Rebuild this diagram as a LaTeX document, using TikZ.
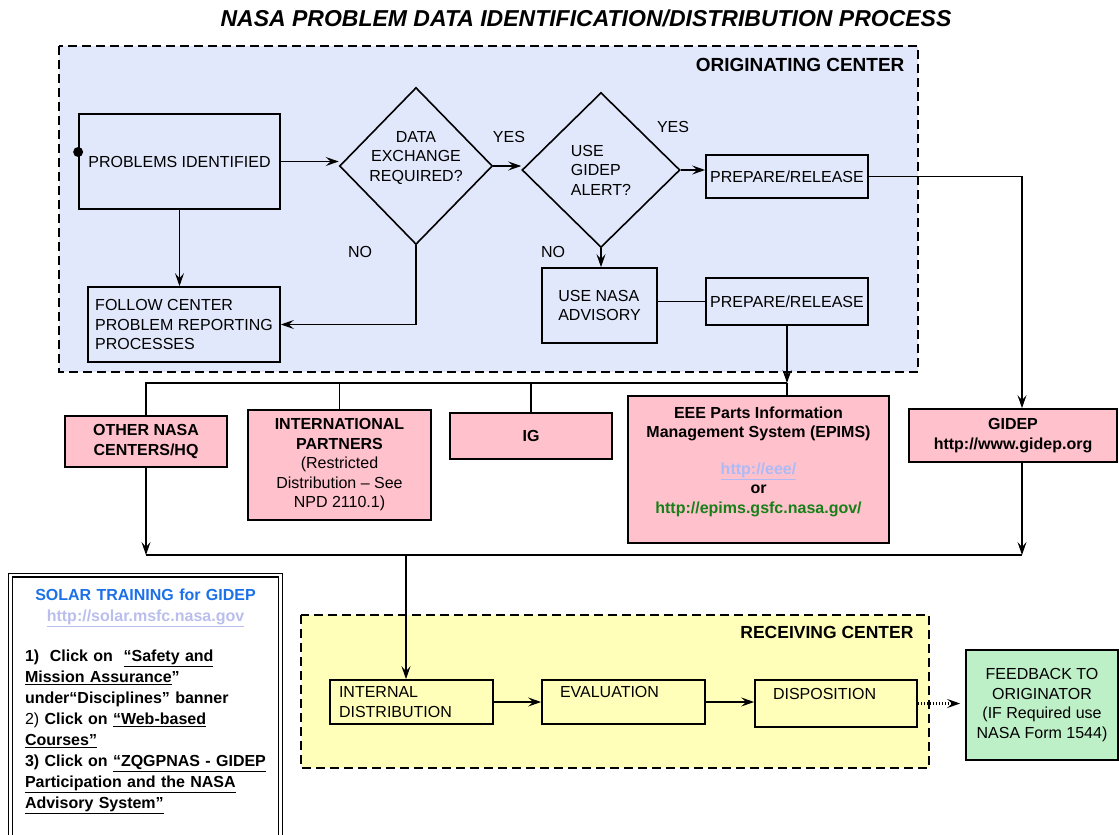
\documentclass[tikz,border=0pt]{standalone}
\usepackage{fontspec}
\setmainfont{Liberation Sans}
\usetikzlibrary{shapes.geometric}
\usetikzlibrary{arrows.meta}
\setlength{\parindent}{0pt}

\definecolor{origblue}{RGB}{226,232,251}
\definecolor{recvyellow}{RGB}{255,255,185}
\definecolor{distpink}{RGB}{255,193,204}
\definecolor{feedgreen}{RGB}{190,240,200}
\definecolor{solarblue}{RGB}{28,112,232}
\definecolor{solarlink}{RGB}{186,190,236}
\definecolor{eeelink}{RGB}{172,186,246}
\definecolor{epimsgreen}{RGB}{24,128,24}

\newcommand{\boxfont}{\fontsize{16}{19.5}\selectfont}
\newcommand{\headfont}{\fontsize{23}{27}\selectfont\bfseries\itshape}

\begin{document}
\begin{tikzpicture}[x=1pt, y=-1pt, >={Stealth[length=13pt,width=9pt,inset=5pt]}]
\tikzstyle{flowbox}=[draw, line width=1.7pt, inner sep=0pt, font=\boxfont, align=center]
\tikzstyle{decision}=[draw, diamond, line width=1.6pt, inner sep=-8pt, font=\boxfont]
\tikzstyle{distbox}=[flowbox, fill=distpink, font=\boxfont\bfseries]
\tikzstyle{procbox}=[flowbox, fill=recvyellow, align=left]
\tikzstyle{flow}=[line width=1.3pt, ->]
\tikzstyle{link}=[line width=1.3pt]
\tikzstyle{region}=[draw, line width=1.5pt, dash pattern=on 9pt off 5pt]
\tikzstyle{answer}=[font=\boxfont]

\useasboundingbox (0,0) rectangle (1119,835);

\node[font=\headfont] (title) at (586,18) {NASA PROBLEM DATA IDENTIFICATION/DISTRIBUTION PROCESS};

% originating center
\draw[region, fill=origblue] (59,46) rectangle (918,372);
\node[font=\fontsize{19}{23}\selectfont\bfseries, anchor=east] (origlabel) at (908,65) {ORIGINATING CENTER};

\node[flowbox, minimum width=201pt, minimum height=95pt] (ident) at (179.5,161.5) {PROBLEMS IDENTIFIED};
\node[circle, fill=black, inner sep=0pt, minimum size=10pt] (start) at ([yshift=9.5pt]ident.west) {};
\node[flowbox, minimum width=192pt, minimum height=75pt, align=left] (follow) at (184,324.5) {FOLLOW CENTER\\PROBLEM REPORTING\\PROCESSES};
\node[decision, minimum width=153pt, minimum height=157pt, align=center] (exch) at (416,166) {DATA\\EXCHANGE\\REQUIRED?\\\mbox{}};
\node[decision, minimum width=158pt, minimum height=155pt, align=left] (alert) at (601,170) {USE\\GIDEP\\ALERT?};
\node[flowbox, minimum width=162pt, minimum height=43pt] (release1) at (787,176.5) {PREPARE/RELEASE};
\node[flowbox, minimum width=115pt, minimum height=75pt, align=left] (advisory) at (599.5,305.5) {USE NASA\\ADVISORY};
\node[flowbox, minimum width=162pt, minimum height=47pt] (release2) at (787,301.5) {PREPARE/RELEASE};

\node[answer] (yes1) at (509,137) {YES};
\node[answer] (yes2) at (673,127) {YES};
\node[answer] (no1) at (360,252) {NO};
\node[answer] (no2) at (553,252) {NO};

\draw[flow] (ident.east) -- (ident.east -| exch.west);
\draw[flow] (exch.east) -- (exch.east -| alert.west);
\draw[flow] (alert.east) -- (alert.east -| release1.west);
\draw[flow] (ident.south) -- (ident.south |- follow.north);
\draw[flow] (exch.south) |- (follow.east);
\draw[flow] (alert.south) -- (alert.south |- advisory.north);
\draw[link] (advisory.east |- release2.west) -- (release2.west);

% distribution
\node[distbox, minimum width=162pt, minimum height=51pt] (other) at (146,441.5) {OTHER NASA\\CENTERS/HQ};
\node[distbox, minimum width=183pt, minimum height=110pt, font=\boxfont] (intl) at (339.5,465) {\textbf{INTERNATIONAL}\\\textbf{PARTNERS}\\(Restricted\\Distribution – See\\NPD 2110.1)};
\node[distbox, minimum width=162pt, minimum height=46pt] (ig) at (531,436) {IG};
\node[distbox, minimum width=261pt, minimum height=147pt] (epims) at (758.5,469.5) {EEE Parts Information\\Management System (EPIMS)\\[17pt]\textcolor{eeelink}{\underline{http://eee/}}\\or\\\textcolor{epimsgreen}{http://epims.gsfc.nasa.gov/}\\\mbox{}};
\node[distbox, minimum width=208pt, minimum height=53pt] (gidep) at (1013,435.5) {GIDEP\\http://www.gidep.org};

\coordinate (split) at (787,383);
\coordinate (gtop) at ([xshift=9pt]gidep.north);
\coordinate (gbottom) at ([xshift=9pt]gidep.south);
\coordinate (merge) at (406,555);

\draw[flow] (release1.east) -| (gtop);
\draw[flow] (release2.south) -- (split);
\draw[link] (split) -| (other.north);
\draw[link] (intl.north) -- (intl.north |- split);
\draw[link] (ig.north) -- (ig.north |- split);
\draw[link] (split) -- (split |- epims.north);

\draw[flow] (other.south) -- (other.south |- merge);
\draw[flow] (gbottom) -- (gbottom |- merge);
\draw[link] (other.south |- merge) -- (gbottom |- merge);

% receiving center
\draw[region, fill=recvyellow] (301,615) rectangle (929,768);
\node[font=\fontsize{17.5}{21}\selectfont\bfseries, anchor=east] (recvlabel) at (917,632) {RECEIVING CENTER};

\node[procbox, minimum height=44pt, inner xsep=9pt, text width=145pt] (intdist) at (411.5,702) {INTERNAL\\DISTRIBUTION};
\node[procbox, minimum height=44pt, inner xsep=18pt, text width=127pt] (evaluate) at (623.5,702) {EVALUATION\\\mbox{}};
\node[procbox, minimum height=47pt, inner xsep=18pt, text width=126pt] (dispose) at (836,703.5) {DISPOSITION\\\mbox{}};
\node[flowbox, fill=feedgreen, minimum width=152pt, minimum height=110pt] (feedback) at (1042,705) {FEEDBACK TO\\ORIGINATOR\\(IF Required use\\NASA Form 1544)};

\draw[flow] (merge) -- (merge |- intdist.north);
\draw[flow] (intdist.east) -- (evaluate.west);
\draw[flow] (evaluate.east) -- (evaluate.east -| dispose.west);
\draw[flow, line width=3pt, dash pattern=on 1.6pt off 1.4pt, shorten >=5pt] (dispose.east) -- (dispose.east -| feedback.west);

% solar training note
\node[draw, double=white, double distance=2.5pt, line width=1.2pt, anchor=north, text width=241pt, inner xsep=14.5pt, inner ysep=14pt, font=\fontsize{16}{21}\selectfont\bfseries, align=left] (solar) at (145.5,574.5) {%
\makebox[\hsize]{\textcolor{solarblue}{SOLAR TRAINING for GIDEP}}\\
\makebox[\hsize]{\textcolor{solarlink}{\underline{http://solar.msfc.nasa.gov}}}\\[19pt]
1)\ \ Click on\ \ \underline{“Safety and}\\
\underline{Mission Assurance}”\\
under“Disciplines” banner\\
{\mdseries 2)} Click on \underline{“Web-based}\\
\underline{Courses”}\\
3) Click on \underline{“ZQGPNAS - GIDEP}\\
\underline{Participation and the NASA}\\
\underline{Advisory System”}\\[40pt]
\mbox{}};
\end{tikzpicture}
\end{document}
